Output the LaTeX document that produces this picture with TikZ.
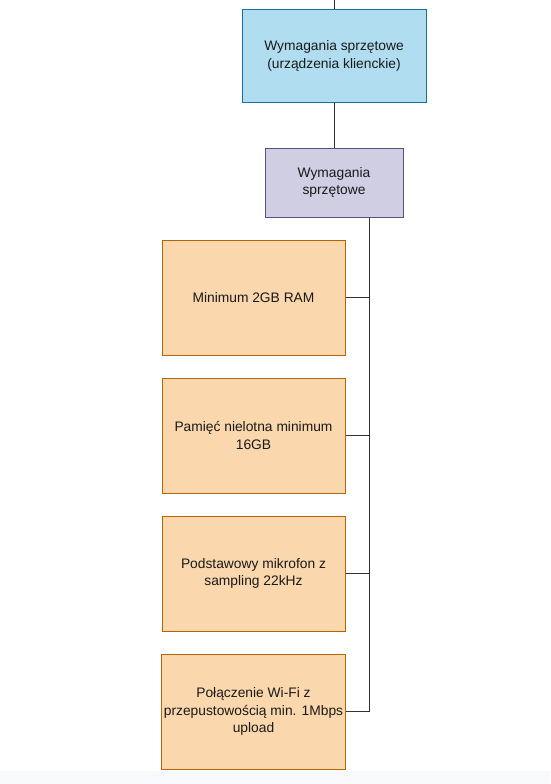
\documentclass[tikz,border=0pt]{standalone}
\usepackage{fontspec}
\setmainfont{Liberation Sans}
\definecolor{blueFill}{HTML}{B1DDF0}
\definecolor{blueLine}{HTML}{10739E}
\definecolor{purpleFill}{HTML}{D0CEE2}
\definecolor{purpleLine}{HTML}{56517E}
\definecolor{orangeFill}{HTML}{FAD7AC}
\definecolor{orangeLine}{HTML}{B46504}
\definecolor{stripFill}{HTML}{F8F9FC}
\definecolor{textGray}{HTML}{1A1A1A}

\begin{document}
\begin{tikzpicture}[x=1pt,y=-1pt,line width=1pt,
	box/.style={draw,rectangle,align=center,text=textGray,
		font=\fontsize{13.8}{17.5}\selectfont,inner sep=2pt},
	reqbox/.style={box,fill=orangeFill,draw=orangeLine,minimum width=183pt,minimum height=115pt}]
	\useasboundingbox (0,0) rectangle (550,784);
	\fill[stripFill] (0,771) rectangle (550,784);
	\coordinate (top) at (334,0);
	\node[box,fill=blueFill,draw=blueLine,minimum width=184pt,minimum height=92pt] (client) at (334,56) {Wymagania sprzętowe\\(urządzenia klienckie)};
	\node[box,fill=purpleFill,draw=purpleLine,minimum width=138pt,minimum height=69pt] (hw) at (334,182.5) {Wymagania\\sprzętowe};
	\node[reqbox] (ram) at (253.5,297.5) {Minimum 2GB RAM};
	\node[reqbox] (storage) at (253.5,435.5) {Pamięć nielotna minimum\\16GB};
	\node[reqbox] (mic) at (253.5,573.5) {Podstawowy mikrofon z\\sampling 22kHz};
	\node[reqbox] (wifi) at (253.5,711.5) {Połączenie Wi-Fi z\\przepustowością min. 1Mbps\\upload};
	\draw[black!80] (top) -- (client.north);
	\draw[black!80] (client.south) -- (hw.north);
	\foreach \n in {ram,storage,mic,wifi} \draw[black!80] ([xshift=35]hw.south) |- (\n.east);
\end{tikzpicture}
\end{document}
